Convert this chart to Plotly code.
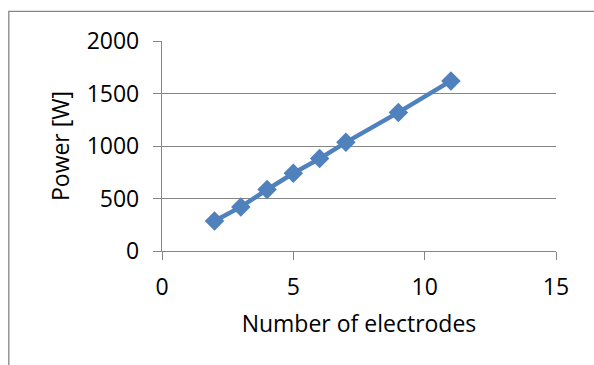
import plotly.graph_objects as go

# Electrode count vs. power
electrodes = [2, 3, 4, 5, 6, 7, 9, 11]
power_w = [285, 420, 585, 740, 880, 1035, 1320, 1620]

x_ticks = [0, 5, 10, 15]
y_ticks = [0, 500, 1000, 1500, 2000]

W, H = 594, 365
L, R, T, B = 161.7, 38.3, 41, 114.3
pw, ph = W - L - R, H - T - B

def px_to_paper_x(px):
    return (px - L) / pw

def px_to_paper_y(py):
    return (H - B - py) / ph

grid = "#868686"
blue = "#4F81BD"
font = "Open Sans"
fs = 23

fig = go.Figure()
fig.add_trace(go.Scatter(
    x=electrodes, y=power_w, mode="lines+markers",
    line=dict(color=blue, width=4.5),
    marker=dict(symbol="diamond", size=15, color=blue),
    showlegend=False,
))

fig.update_layout(
    width=W, height=H,
    margin=dict(l=L, r=R, t=T, b=B, pad=0),
    paper_bgcolor="white", plot_bgcolor="white",
    font=dict(family=font, size=fs, color="black"),
    xaxis=dict(
        range=[0, 15], tickvals=x_ticks, ticktext=[str(v) for v in x_ticks],
        showgrid=False, zeroline=False,
        showline=True, linecolor=grid, linewidth=1.3,
        ticks="outside", ticklen=8, tickcolor=grid, tickwidth=1.3,
        tickfont=dict(size=fs), ticklabelstandoff=7,
        title=dict(text="Number of electrodes", font=dict(size=fs), standoff=15),
    ),
    yaxis=dict(
        range=[0, 2000], tickvals=y_ticks, ticktext=[str(v) for v in y_ticks],
        showgrid=True, gridcolor=grid, gridwidth=1.3, zeroline=False,
        showline=True, linecolor=grid, linewidth=1.3,
        ticks="outside", ticklen=8, tickcolor=grid, tickwidth=1.3,
        tickfont=dict(size=fs), ticklabelstandoff=9,
        title=dict(text="Power [W]", font=dict(size=fs), standoff=10),
    ),
    shapes=[dict(
        type="rect", xref="paper", yref="paper",
        x0=px_to_paper_x(8.5), x1=px_to_paper_x(W + 10),
        y0=px_to_paper_y(H + 10), y1=px_to_paper_y(11.5),
        line=dict(color=grid, width=1.3), fillcolor="rgba(0,0,0,0)",
        layer="below",
    )],
)

fig.write_html("out.html")
